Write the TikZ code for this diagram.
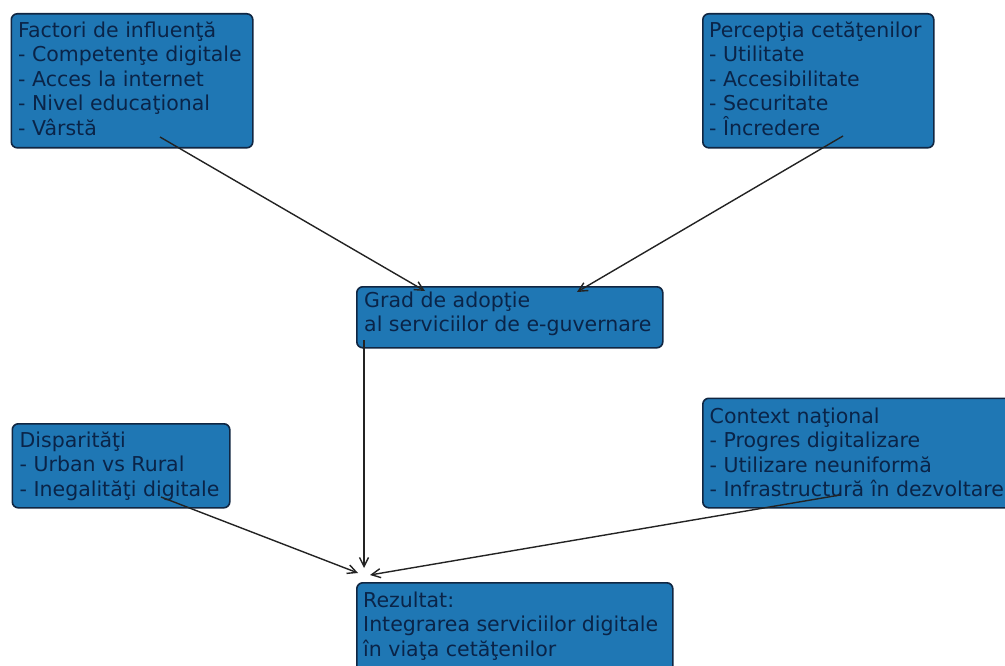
\documentclass[tikz,border=0pt]{standalone}
\usepackage{fontspec}
\setmainfont{DejaVu Sans}
\usetikzlibrary{arrows.meta}
\definecolor{boxfill}{RGB}{31,119,180}
\definecolor{boxedge}{RGB}{16,38,66}
\definecolor{txt}{RGB}{10,36,72}
\definecolor{arr}{RGB}{35,35,35}
\tikzset{
 box/.style={draw=boxedge, fill=boxfill, line width=1.6pt, rounded corners=6pt, anchor=north west, inner sep=0pt},
 lbl/.style={anchor=north west, inner sep=0pt, align=left, text=txt, font=\fontsize{20.5}{24.5}\selectfont},
 conn/.style={draw=arr, line width=1.4pt, -{Straight Barb[length=9pt,width=9pt]}},
}
\begin{document}
\begin{tikzpicture}[x=1pt,y=-1pt]
\clip (0,0) rectangle (1005,666);
\fill[white] (0,0) rectangle (1005,666);
% boxes
\node[box, minimum width=241.5pt, minimum height=134pt] (b1) at (10.5,13) {};
\node[box, minimum width=231pt, minimum height=134pt] (b2) at (702,13) {};
\node[box, minimum width=306pt, minimum height=61pt] (b3) at (356,286) {};
\node[box, minimum width=217.5pt, minimum height=84pt] (b4) at (11.5,423) {};
\node[box, minimum width=312pt, minimum height=109.5pt] (b5) at (702,397.5) {};
\node[box, minimum width=316pt, minimum height=100pt] (b6) at (356,582) {};
% texts
\node[lbl] (t1) at (18,19.85) {\strut Factori de influenţă\\- Competenţe digitale\\- Acces la internet\\- Nivel educaţional\\- Vârstă};
\node[lbl] (t2) at (709,19.85) {\strut Percepţia cetăţenilor\\- Utilitate\\- Accesibilitate\\- Securitate\\- Încredere};
\node[lbl] (t3) at (364,289.85) {\strut Grad de adopţie\\al serviciilor de e-guvernare};
\node[lbl] (t4) at (19.5,429.85) {\strut Disparităţi\\- Urban vs Rural\\- Inegalităţi digitale};
\node[lbl] (t5) at (709.5,405.85) {\strut Context naţional\\- Progres digitalizare\\- Utilizare neuniformă\\- Infrastructură în dezvoltare};
\node[lbl] (t6) at (363,589.85) {\strut Rezultat:\\Integrarea serviciilor digitale\\în viaţa cetăţenilor};
% connector points
\coordinate (s1) at (160,137);
\coordinate (e1) at (425,291);
\coordinate (s2) at (843,136);
\coordinate (e2) at (577,292);
\coordinate (s3) at (364,340);
\coordinate (e3) at (364,568);
\coordinate (s4) at (161,497);
\coordinate (e4) at (358,573);
\coordinate (s5) at (840,495);
\coordinate (e5) at (370,575);
\draw[conn] (s1) -- (e1);
\draw[conn] (s2) -- (e2);
\draw[conn] (s3) -- (e3);
\draw[conn] (s4) -- (e4);
\draw[conn] (s5) -- (e5);
\end{tikzpicture}
\end{document}
